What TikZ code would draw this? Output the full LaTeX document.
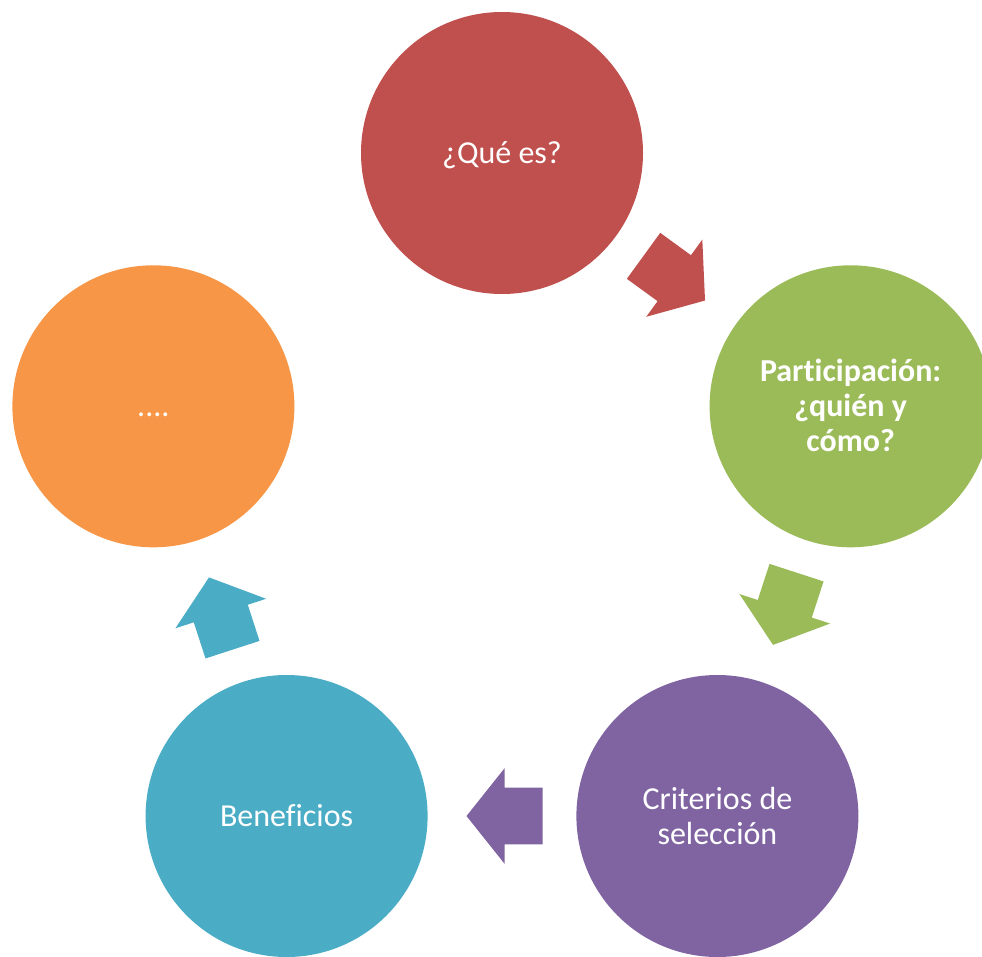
\documentclass[tikz,border=0pt]{standalone}
\usepackage{fontspec}
\setmainfont{Carlito}[Ligatures=NoCommon]
\usetikzlibrary{calc}
\definecolor{cred}{HTML}{C0504D}
\definecolor{cgreen}{HTML}{9BBB59}
\definecolor{cpurple}{HTML}{8064A2}
\definecolor{cblue}{HTML}{4BACC6}
\definecolor{corange}{HTML}{F79646}
\newcommand\mystrut{\rule[-7pt]{0pt}{35pt}}
\newcommand\cyclearrow[3]{%
  \coordinate (M#1#2) at ($(#1.center)!0.5!(#2.center)$);
  \coordinate (C#1#2) at ($(M#1#2)!-2.5pt!(#2.center)$);
  \coordinate (T#1#2) at ($(C#1#2)!-38pt!(#2.center)$);
  \coordinate (P#1#2) at ($(C#1#2)!38pt!(#2.center)$);
  \fill[#3] ($(T#1#2)!28.4pt!90:(#2.center)$) -- ($(C#1#2)!28.4pt!90:(#2.center)$)
    -- ($(C#1#2)!47.7pt!90:(#2.center)$) -- (P#1#2)
    -- ($(C#1#2)!47.7pt!-90:(#2.center)$) -- ($(C#1#2)!28.4pt!-90:(#2.center)$)
    -- ($(T#1#2)!28.4pt!-90:(#2.center)$) -- cycle;
}
\begin{document}
\begin{tikzpicture}[x=1pt,y=-1pt,
  bubble/.style={circle,minimum size=282pt,inner sep=0pt,draw=none,text=white,
    align=center,font=\fontsize{32}{35}\selectfont}]
\useasboundingbox (0,0) rectangle (982,956);
\clip (0,0) rectangle (982,956);
\node[bubble,fill=cred]    (q) at (502,153)   {\mystrut¿Qué es?};
\node[bubble,fill=cgreen,font=\fontsize{32}{35}\selectfont\bfseries]  (p) at (850.6,406.3) {\mystrut Participación:\\\mystrut¿quién y\\\mystrut cómo?};
\node[bubble,fill=cpurple] (c) at (717.4,816)  {\mystrut Criterios de\\\mystrut selección};
\node[bubble,fill=cblue]   (b) at (286.6,816)  {\mystrut Beneficios};
\node[bubble,fill=corange] (o) at (153.4,406.3) {\mystrut....};
\cyclearrow{q}{p}{cred}
\cyclearrow{p}{c}{cgreen}
\cyclearrow{c}{b}{cpurple}
\cyclearrow{b}{o}{cblue}
\end{tikzpicture}
\end{document}
